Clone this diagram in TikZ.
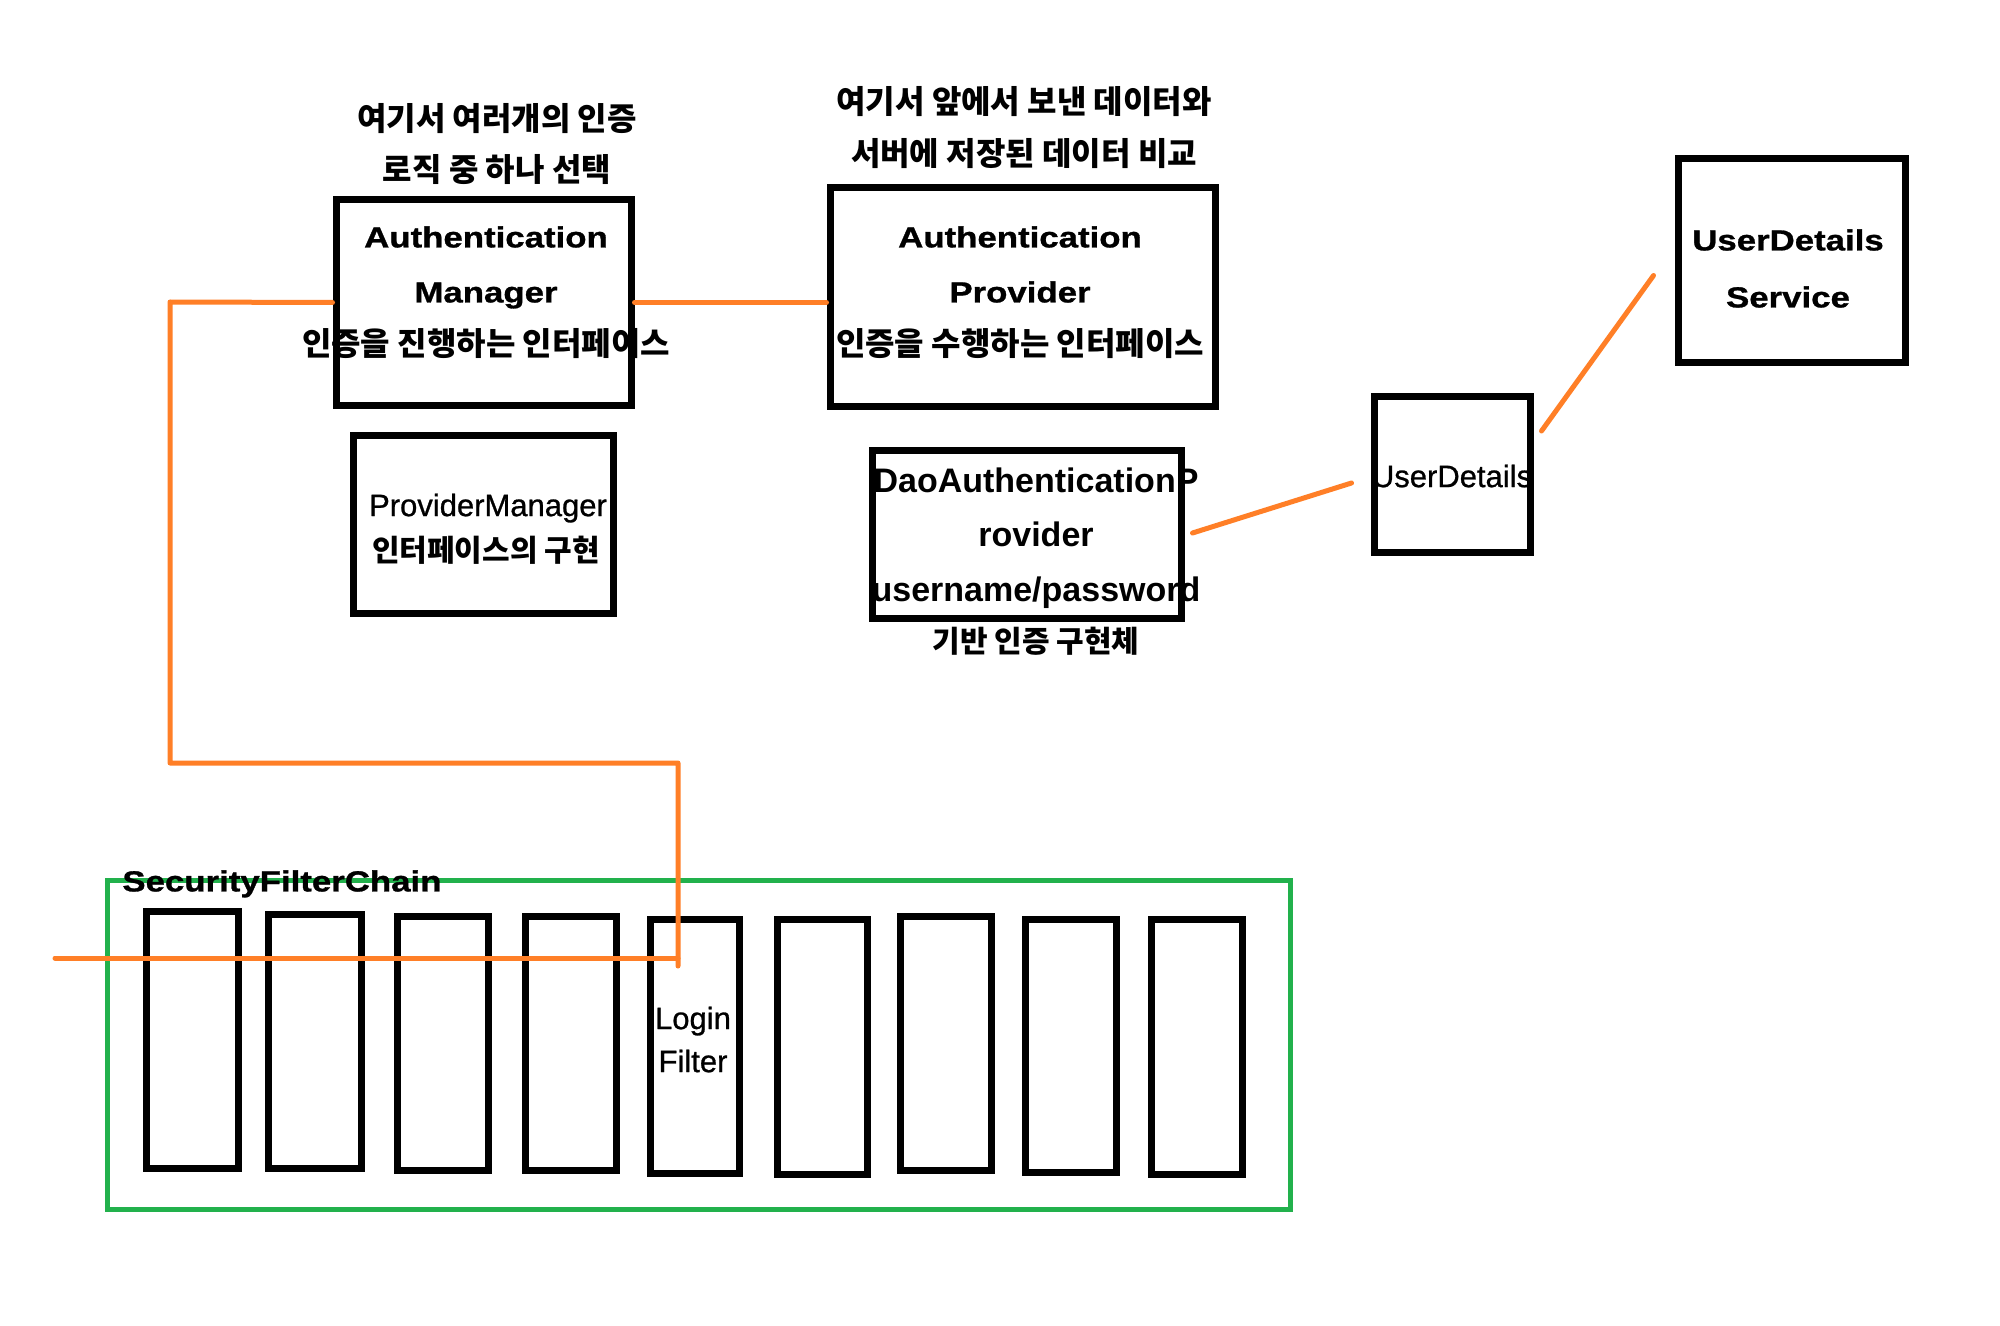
\documentclass[tikz,border=0pt]{standalone}
\usepackage{fontspec}
\setmainfont{Liberation Sans}
\newfontfamily\krfont{Noto Sans CJK KR}
\newfontfamily\widesans{Liberation Sans Bold}[FakeStretch=1.2,FakeBold=1]
\newfontfamily\heavysans{Liberation Sans}[FakeBold=0.8]
\usetikzlibrary{fit,calc}
\definecolor{sorange}{HTML}{FF7F27}
\definecolor{sgreen}{HTML}{22B14C}
\begin{document}
\begin{tikzpicture}[
 x=0.5pt, y=-0.5pt,
 box/.style={draw=black, line width=3.5pt, inner sep=0pt},
 gbox/.style={draw=sgreen, line width=2.5pt, inner sep=0pt},
 oline/.style={draw=sorange, line width=2.5pt, line cap=round, line join=round},
 krt/.style={inner sep=0pt, font=\krfont\bfseries\fontsize{16pt}{19pt}\selectfont, text height=12.8pt, text depth=1.2pt},
 krs/.style={inner sep=0pt, font=\krfont\bfseries\fontsize{15pt}{18pt}\selectfont, text height=12pt, text depth=1.1pt},
 wb/.style={inner sep=0pt, font=\widesans\fontsize{14.5pt}{17pt}\selectfont, text height=10.4pt, text depth=0pt},
 nb/.style={inner sep=0pt, font=\bfseries\fontsize{17pt}{20pt}\selectfont, text height=12.2pt, text depth=0pt},
 rg/.style={inner sep=0pt, font=\heavysans\fontsize{15.5pt}{18pt}\selectfont, text height=11.1pt, text depth=0pt},
]
\useasboundingbox[fill=white] (0,0) rectangle (2000,1326);

% main boxes
\node[box, fit={(336,200) (631,405)}] (am) {};
\node[box, fit={(830,188) (1215,406)}] (ap) {};
\node[box, fit={(353,435) (613,613)}] (pm) {};
\node[box, fit={(872,450) (1181,618)}] (dao) {};
\node[box, fit={(1374,396) (1530,552)}] (ud) {};
\node[box, fit={(1678,159) (1905,362)}] (uds) {};

% security filter chain
\node[gbox, fit={(107,880) (1290,1209)}] (sfc) {};
\node[box, fit={(146,911) (238,1168)}] (f1) {};
\node[box, fit={(268,914) (361,1168)}] (f2) {};
\node[box, fit={(397,916) (488,1170)}] (f3) {};
\node[box, fit={(525,916) (616,1170)}] (f4) {};
\node[box, fit={(650,919) (739,1173)}] (f5) {};
\node[box, fit={(777,919) (867,1174)}] (f6) {};
\node[box, fit={(900,916) (991,1170)}] (f7) {};
\node[box, fit={(1025,919) (1116,1172)}] (f8) {};
\node[box, fit={(1151,919) (1242,1174)}] (f9) {};

% texts
\node[krt] (t1a) at (497,119) {여기서 여러개의 인증};
\node[krt] (t1b) at (497,170) {로직 중 하나 선택};
\node[wb] (am1) at (486,237) {Authentication};
\node[wb] (am2) at (486,292) {Manager};
\node[krt] (am3) at (486,344) {인증을 진행하는 인터페이스};

\node[krt] (t2a) at (1024,102) {여기서 앞에서 보낸 데이터와};
\node[krt] (t2b) at (1024,154) {서버에 저장된 데이터 비교};
\node[wb] (ap1) at (1020,237) {Authentication};
\node[wb] (ap2) at (1020,292) {Provider};
\node[krt] (ap3) at (1020,344) {인증을 수행하는 인터페이스};

\node[rg] (pm1) at (488,505) {ProviderManager};
\node[krs] (pm2) at (486,551) {인터페이스의 구현};

\node[nb] (dao1) at (1036,480) {DaoAuthenticationP};
\node[nb] (dao2) at (1036,534) {rovider};
\node[nb] (dao3) at (1036,589) {username/password};
\node[krs] (dao4) at (1036,642) {기반 인증 구현체};

\node[rg] (ud1) at (1452,476) {UserDetails};
\node[wb] (uds1) at (1788,240) {UserDetails};
\node[wb] (uds2) at (1788,297) {Service};

\node[rg] (lf1) at (693,1018) {Login};
\node[rg] (lf2) at (693,1061) {Filter};
\node[wb, anchor=west] (sfct) at (122,881) {SecurityFilterChain};

% connectors
\coordinate (elbow) at (678,763);
\coordinate (lfend) at (678,966);
\coordinate (inleft) at (55,958);
\draw[oline] (am.east) -- (am.east -| ap.west);
\draw[oline] (am.west) -- (170,302) -- (170,763) -- (elbow) -- (lfend);
\draw[oline] (inleft) -- (inleft -| lfend);
\draw[oline] ($(dao.east)+(8,-1)$) -- ($(ud.west)+(-19,9)$);
\draw[oline] ($(ud.east)+(8,-43)$) -- ($(uds.west)+(-21,15)$);
\end{tikzpicture}
\end{document}
